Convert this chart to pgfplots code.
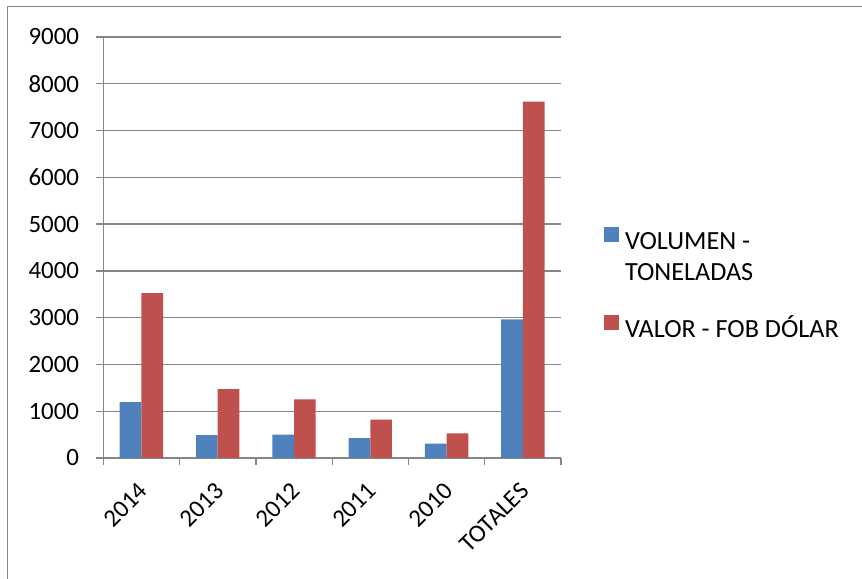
\documentclass[border=0pt]{standalone}
\usepackage{pgfplots}
\pgfplotsset{compat=1.18}
\usepackage{fontspec}
\setmainfont{Carlito}
\definecolor{xlblue}{RGB}{79,129,189}
\definecolor{xlred}{RGB}{192,80,77}
\definecolor{xlgray}{RGB}{134,134,134}
\begin{document}
\begin{tikzpicture}
\useasboundingbox (0,0) rectangle (862bp,579bp);
\draw[xlgray, line width=1.5bp] (7.5bp,0) -- (7.5bp,572.5bp) -- (862bp,572.5bp);
\begin{axis}[
  at={(103.3bp,121bp)}, anchor=south west,
  scale only axis, width=457.7bp, height=421bp,
  xmin=-0.5, xmax=5.5, ymin=0, ymax=9000,
  axis x line*=bottom, axis y line*=left,
  axis line style={xlgray, line width=1.3bp},
  ytick={0,1000,...,9000},
  yticklabels={0,1000,2000,3000,4000,5000,6000,7000,8000,9000},
  ymajorgrids, grid style={xlgray, line width=1.3bp},
  xtick={0,1,2,3,4,5},
  xticklabels={2014,2013,2012,2011,2010,TOTALES},
  minor xtick={-0.5,0.5,1.5,2.5,3.5,4.5,5.5},
  major x tick style={draw=none},
  tick align=outside,
  major tick length=7bp, minor tick length=7bp,
  tick style={xlgray, line width=1.3bp},
  every tick label/.append style={font=\fontsize{25}{31}\selectfont},
  yticklabel style={anchor=east, inner sep=0pt, xshift=-17bp},
  xticklabel style={xshift=-4bp, yshift=-16bp, rotate=45, anchor=north east, inner sep=0pt},
  ybar=0pt, bar width=21.7bp,
  legend style={at={(1.094,0.5688)}, anchor=north west, draw=none, fill=none,
    inner sep=0pt, outer sep=0pt, font=\fontsize{26.3}{31}\selectfont, row sep=0pt,
    nodes={inner sep=0pt, text depth=, text height=},
    /tikz/every odd column/.append style={column sep=6bp}},
  legend cell align=left,
]
\addplot[fill=xlblue, draw=none,
  legend image code/.code={\path[fill=none, draw=none] (0bp,-8.15bp) (15bp,23.15bp); \fill[xlblue] (0bp,0bp) rectangle (15bp,15bp);}]
  coordinates {(0,1197) (1,491) (2,500) (3,427) (4,308) (5,2963)};
\addlegendentry{VOLUMEN -\rule[-8.15bp]{0pt}{31.3bp}}
\addlegendimage{empty legend}
\addlegendentry{TONELADAS\rule[-8.15bp]{0pt}{31.3bp}}
\addplot[fill=xlred, draw=none,
  legend image code/.code={\path[fill=none, draw=none] (0bp,-26.15bp) (15bp,41.15bp); \fill[xlred] (0bp,0bp) rectangle (15bp,15bp);}]
  coordinates {(0,3526) (1,1474) (2,1254) (3,820) (4,528) (5,7621)};
\addlegendentry{VALOR - FOB DÓLAR\rule[-26.15bp]{0pt}{67.3bp}}
\end{axis}
\end{tikzpicture}
\end{document}
